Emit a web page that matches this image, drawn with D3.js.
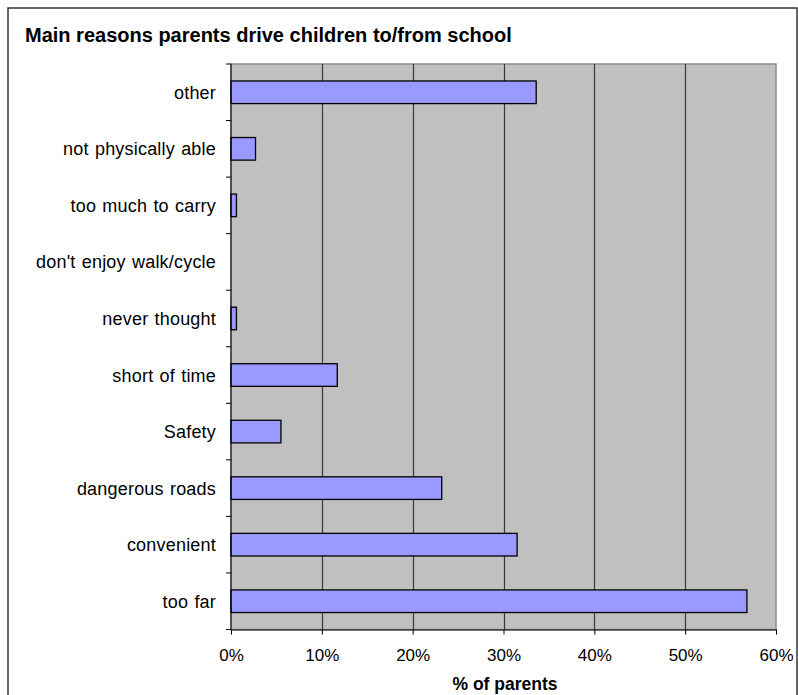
<!DOCTYPE html>
<html>
<head>
<meta charset="utf-8">
<script src="https://cdn.jsdelivr.net/npm/d3@7"></script>
<style>
  body { margin: 0; background: #fff; }
  svg { display: block; font-family: "Liberation Sans", Arial, sans-serif; }
</style>
</head>
<body>
<div id="chart"></div>
<script>
// data (top to bottom)
var reasons = ['other', 'not physically able', 'too much to carry', "don't enjoy walk/cycle",
               'never thought', 'short of time', 'Safety', 'dangerous roads', 'convenient', 'too far']
var shares  = [0.336, 0.027, 0.006, 0, 0.006, 0.117, 0.055, 0.232, 0.315, 0.568]
var xTicks  = [0, 0.1, 0.2, 0.3, 0.4, 0.5, 0.6]

var W = 798, H = 695
var plot = {left: 231, right: 776, top: 64, bottom: 629.5}

var svg = d3.select('#chart')
			.append('svg')
			.attr('width', W)
			.attr('height', H)

//outer frame
svg.append('rect')
   .attr('x', 8).attr('y', 8)
   .attr('width', 789).attr('height', 720)
   .style('fill', '#fff')
   .style('stroke', '#333')
   .style('stroke-width', 1.5)

//title
svg.append('text')
   .attr('x', 25)
   .attr('y', 42)
   .attr('font-size', '20px')
   .attr('font-weight', 'bold')
   .text('Main reasons parents drive children to/from school')

//scales
var x = d3.scaleLinear()
		  .domain([0, 0.6])
		  .range([plot.left, plot.right])

var y = d3.scaleBand()
		  .domain(reasons)
		  .range([plot.top, plot.bottom])
		  .padding(0)

//plot area
svg.append('rect')
   .attr('x', plot.left)
   .attr('y', plot.top)
   .attr('width', plot.right - plot.left)
   .attr('height', plot.bottom - plot.top)
   .style('fill', '#c0c0c0')
   .style('stroke', '#8c8c8c')
   .style('stroke-width', 1.5)

//gridlines
svg.append('g')
   .selectAll('line')
   .data(xTicks.slice(1, -1))
   .enter().append('line')
   .attr('x1', function(d){ return Math.round(x(d)) + 0.5 })
   .attr('x2', function(d){ return Math.round(x(d)) + 0.5 })
   .attr('y1', plot.top)
   .attr('y2', plot.bottom)
   .style('stroke', '#3a3a3a')
   .style('stroke-width', 1.2)

//bars (gap width 150%)
var barH = y.bandwidth() / 2.5
svg.append('g')
   .selectAll('rect')
   .data(reasons)
   .enter().append('rect')
   .attr('x', x(0))
   .attr('y', function(d){ return y(d) + (y.bandwidth() - barH) / 2 })
   .attr('width', function(d, i){ return x(shares[i]) - x(0) })
   .attr('height', barH)
   .style('fill', function(d, i){ return shares[i] > 0 ? '#9999ff' : 'none' })
   .style('stroke', function(d, i){ return shares[i] > 0 ? '#000' : 'none' })
   .style('stroke-width', 1.3)

//y axis: line, ticks at band edges, labels
var yEdges = reasons.map(function(d){ return y(d) }).concat([plot.bottom])
var yAxis = svg.append('g')
yAxis.append('line')
	 .attr('x1', plot.left).attr('x2', plot.left)
	 .attr('y1', plot.top).attr('y2', plot.bottom)
	 .style('stroke', '#000')
yAxis.selectAll('.ytick')
	 .data(yEdges)
	 .enter().append('line')
	 .attr('class', 'ytick')
	 .attr('x1', plot.left - 5).attr('x2', plot.left)
	 .attr('y1', function(d){ return d }).attr('y2', function(d){ return d })
	 .style('stroke', '#000')
yAxis.selectAll('text')
	 .data(reasons)
	 .enter().append('text')
	 .attr('x', 216)
	 .attr('y', function(d){ return y(d) + y.bandwidth() / 2 })
	 .attr('dy', '0.36em')
	 .attr('text-anchor', 'end')
	 .attr('font-size', '18px')
	 .style('letter-spacing', '0.2px')
	 .style('word-spacing', '1px')
	 .text(function(d){ return d })

//x axis
var xAxis = svg.append('g')
			   .attr('transform', 'translate(0,' + plot.bottom + ')')
			   .call(d3.axisBottom(x)
					   .tickValues(xTicks)
					   .tickFormat(d3.format('.0%'))
					   .tickSize(5)
					   .tickSizeOuter(0))
xAxis.select('.domain').style('stroke', '#000')
xAxis.selectAll('.tick line').style('stroke', '#000')
xAxis.selectAll('.tick text')
	 .attr('y', 31)
	 .attr('dy', 0)
	 .attr('font-size', '17px')
	 .attr('font-family', '"Liberation Sans", Arial, sans-serif')
	 .style('fill', '#000')

svg.append('text')
   .attr('x', 505)
   .attr('y', 690)
   .attr('text-anchor', 'middle')
   .attr('font-size', '17.5px')
   .attr('font-weight', 'bold')
   .text('% of parents')
</script>
</body>
</html>
